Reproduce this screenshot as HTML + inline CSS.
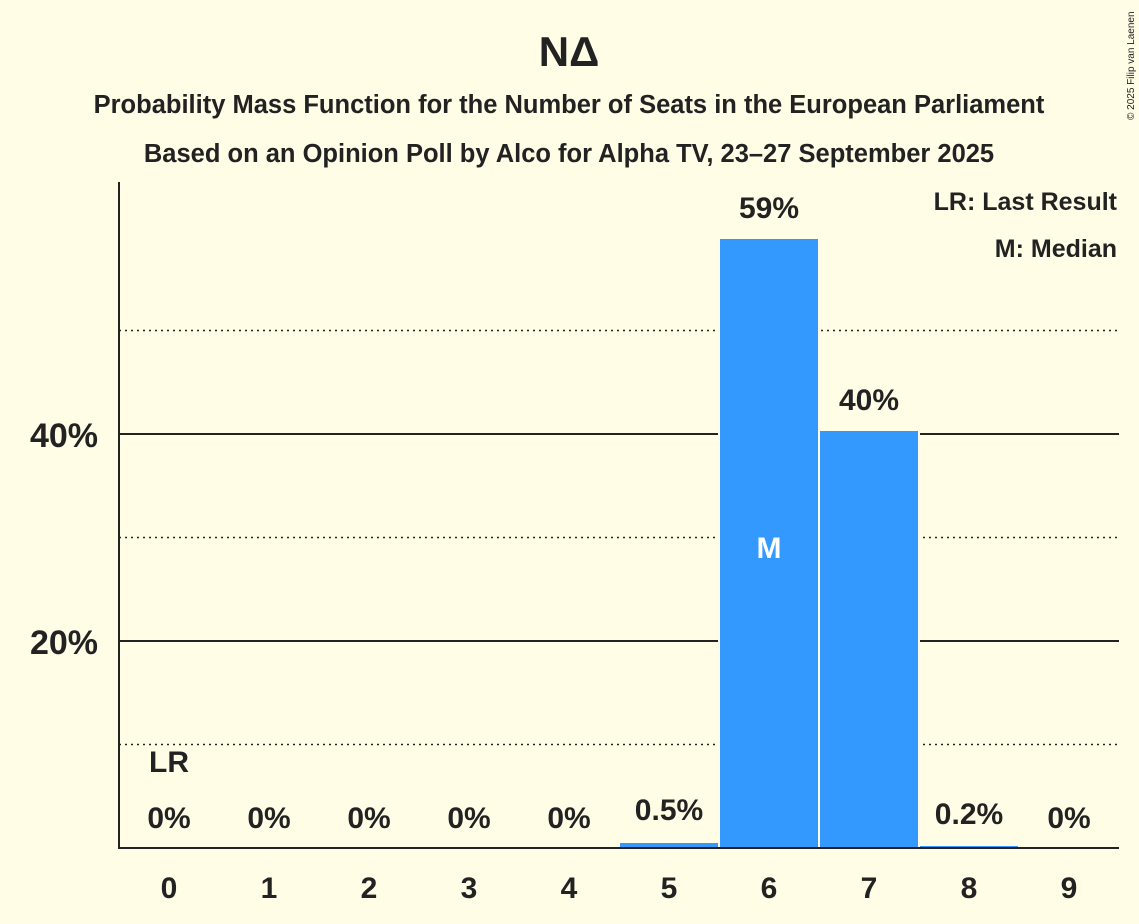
<!DOCTYPE html>
<html><head><meta charset="utf-8"><style>
html,body{margin:0;padding:0;background:#FFFDE6;}
svg{display:block}
text{font-family:"Liberation Sans",sans-serif;font-weight:bold;fill:#222;}
</style></head><body>
<svg width="1139" height="924" xmlns="http://www.w3.org/2000/svg">
<rect width="1139" height="924" fill="#FFFDE6"/>
<text x="569" y="66" font-size="42" text-anchor="middle">NΔ</text>
<text x="569" y="113" font-size="25.5" text-anchor="middle">Probability Mass Function for the Number of Seats in the European Parliament</text>
<text x="569" y="162" font-size="25.5" text-anchor="middle">Based on an Opinion Poll by Alco for Alpha TV, 23–27 September 2025</text>
<text x="1134" y="120" font-size="10" transform="rotate(-90 1134 120)" style="font-weight:normal">© 2025 Filip van Laenen</text>
<g stroke="#222" stroke-width="1.5" stroke-dasharray="2,4">
<line x1="119" x2="1119" y1="744.5" y2="744.5"/>
<line x1="119" x2="1119" y1="537.5" y2="537.5"/>
<line x1="119" x2="1119" y1="330.5" y2="330.5"/>
</g>
<g stroke="#222" stroke-width="2">
<line x1="119" x2="1119" y1="641" y2="641"/>
<line x1="119" x2="1119" y1="434" y2="434"/>
</g>
<g fill="#FFFDE6">
<rect x="618" y="841" width="102" height="7"/>
<rect x="718" y="237" width="102" height="611"/>
<rect x="818" y="429" width="102" height="419"/>
<rect x="918" y="844" width="102" height="4"/>
</g>
<g fill="#3399FF">
<rect x="620" y="843" width="98" height="5"/>
<rect x="720" y="239" width="98" height="609"/>
<rect x="820" y="431" width="98" height="417"/>
<rect x="920" y="846" width="98" height="2"/>
</g>
<line x1="119" y1="182" x2="119" y2="849" stroke="#222" stroke-width="2"/>
<line x1="118" y1="848" x2="1119" y2="848" stroke="#222" stroke-width="2"/>
<text x="98" y="654" font-size="34" text-anchor="end">20%</text>
<text x="98" y="447" font-size="34" text-anchor="end">40%</text>
<g font-size="30" text-anchor="middle">
<text x="169" y="898">0</text><text x="269" y="898">1</text><text x="369" y="898">2</text><text x="469" y="898">3</text><text x="569" y="898">4</text>
<text x="669" y="898">5</text><text x="769" y="898">6</text><text x="869" y="898">7</text><text x="969" y="898">8</text><text x="1069" y="898">9</text>
</g>
<g font-size="30" text-anchor="middle">
<text x="169" y="828">0%</text><text x="269" y="828">0%</text><text x="369" y="828">0%</text><text x="469" y="828">0%</text><text x="569" y="828">0%</text>
<text x="669" y="820">0.5%</text><text x="769" y="218">59%</text><text x="869" y="410">40%</text><text x="969" y="824">0.2%</text><text x="1069" y="828">0%</text>
<text x="169" y="772">LR</text>
<text x="769" y="558" style="fill:#fff">M</text>
</g>
<text x="1117" y="210" font-size="25" text-anchor="end">LR: Last Result</text>
<text x="1117" y="257" font-size="25" text-anchor="end">M: Median</text>
</svg>
</body></html>
